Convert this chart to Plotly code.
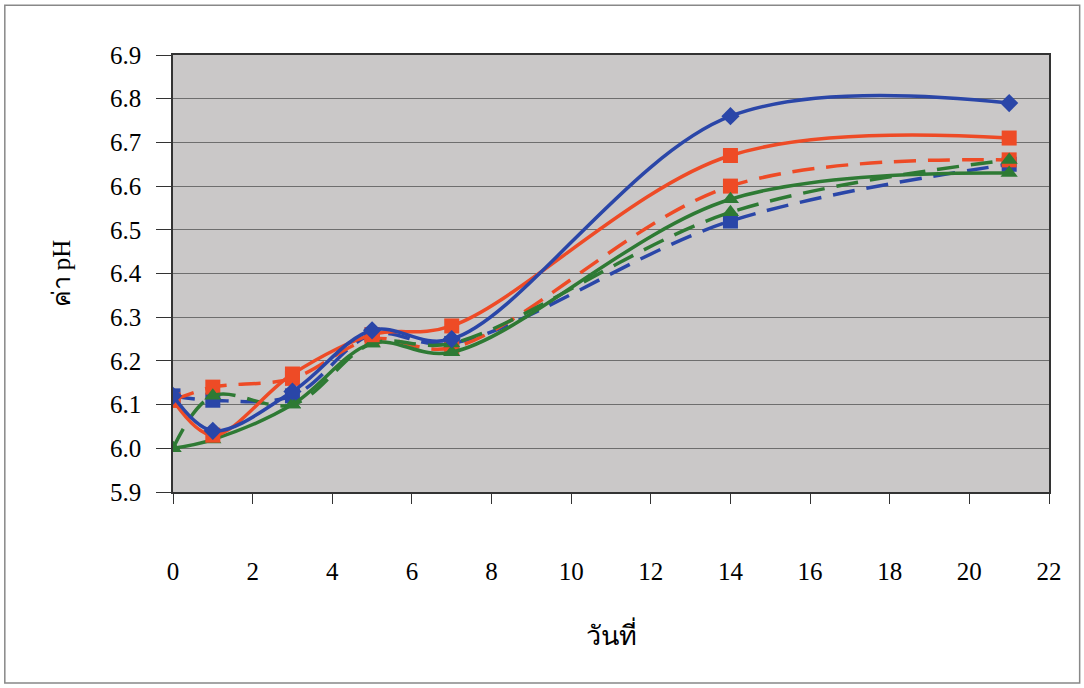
import plotly.graph_objects as go

days = [0, 1, 3, 5, 7, 14, 21]
blue_solid = [6.12, 6.04, 6.13, 6.27, 6.25, 6.76, 6.79]
red_solid = [6.11, 6.03, 6.17, 6.26, 6.28, 6.67, 6.71]
green_solid = [6.00, 6.02, 6.10, 6.24, 6.22, 6.57, 6.63]
blue_dash = [6.12, 6.11, 6.12, 6.26, 6.24, 6.52, 6.65]
red_dash = [6.11, 6.14, 6.16, 6.25, 6.23, 6.60, 6.66]
green_dash = [6.00, 6.12, 6.10, 6.24, 6.24, 6.54, 6.66]

BLUE = "#2A46A8"
RED = "#EE4B26"
GREEN = "#2E7A34"

series = [
    (blue_dash, BLUE, "22px,12px", "square"),
    (red_dash, RED, "22px,12px", "square"),
    (green_dash, GREEN, "22px,12px", "triangle-up"),
    (green_solid, GREEN, "solid", "triangle-up"),
    (red_solid, RED, "solid", "square"),
    (blue_solid, BLUE, "solid", "diamond"),
]

fig = go.Figure()
for vals, col, dash, sym in series:
    fig.add_trace(go.Scatter(
        x=days, y=vals, mode="lines+markers",
        line=dict(color=col, width=3.5, dash=dash, shape="spline", smoothing=1),
        marker=dict(color=col, symbol=sym, size=15 if sym != "diamond" else 14),
        showlegend=False,
    ))

font_fam = "Liberation Serif, Times New Roman, serif"
fig.update_layout(
    width=1084, height=688,
    margin=dict(l=173, r=35, t=55, b=196),
    paper_bgcolor="white",
    plot_bgcolor="#CAC8C8",
    font=dict(family=font_fam, size=25, color="black"),
    xaxis=dict(
        range=[0, 22], dtick=2, tick0=0,
        showgrid=False, zeroline=False,
        showline=True, linecolor="#333", linewidth=1.5, mirror=True,
        ticks="outside", ticklen=10, tickcolor="#333",
        ticklabelstandoff=46,
        title=dict(text="วันที่", font=dict(size=27), standoff=42),
    ),
    yaxis=dict(
        range=[5.9, 6.9], dtick=0.1, tick0=5.9, tickformat=".1f",
        showgrid=True, gridcolor="#6E6E6E", gridwidth=1, zeroline=False,
        showline=True, linecolor="#333", linewidth=1.5, mirror=True,
        ticks="outside", ticklen=15, tickcolor="#333",
        ticklabelstandoff=10,
        title=dict(text="ค่า pH", font=dict(size=25), standoff=32),
    ),
    shapes=[dict(
        type="rect", xref="paper", yref="paper",
        x0=-0.192, x1=1.035, y0=-0.437, y1=1.114,
        line=dict(color="#888", width=1.5), fillcolor="rgba(0,0,0,0)",
        layer="below",
    )],
)

fig.write_html("out.html")
